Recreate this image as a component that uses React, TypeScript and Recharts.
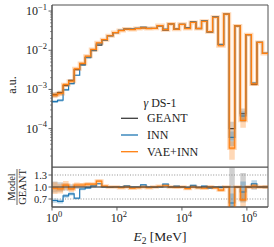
import React from "react";
import {
  ComposedChart,
  Line,
  Area,
  XAxis,
  YAxis,
  ReferenceLine,
  ReferenceArea,
} from "recharts";

// binning: 39 log-spaced bins in E_2 [MeV]
const LOG_E_MIN = 0;
const LOG_E_MAX = 6.65;
const N_BINS = 39;

// normalised histograms (a.u.), one value per bin
const geant = [
  7.4e-4, 8.3e-4, 1.26e-3, 1.7e-3, 3.2e-3, 4.4e-3, 6.6e-3, 9.8e-3, 1.35e-2, 1.82e-2,
  2.34e-2, 2.82e-2, 3.24e-2, 3.47e-2, 3.47e-2, 3.63e-2, 3.72e-2, 3.63e-2, 3.63e-2, 4.17e-2,
  3.24e-2, 4.68e-2, 3.47e-2, 4.57e-2, 3.72e-2, 5.13e-2, 3.63e-2, 5.62e-2, 2.95e-2, 7.08e-2,
  1.41e-2, 8.3e-2, 1.0e-4, 4.17e-2, 2.4e-4, 2.5e-2, 1.35e-3, 1.58e-2, 8.3e-3,
];
const inn = [
  4.9e-4, 5.3e-4, 9.8e-4, 1.41e-3, 2.3e-3, 4.18e-3, 6.47e-3, 1.01e-2, 1.46e-2, 1.82e-2,
  2.32e-2, 2.82e-2, 3.24e-2, 3.57e-2, 3.47e-2, 3.63e-2, 3.91e-2, 3.63e-2, 3.59e-2, 4.17e-2,
  3.47e-2, 4.68e-2, 3.54e-2, 4.57e-2, 3.65e-2, 5.34e-2, 3.56e-2, 5.73e-2, 2.86e-2, 7.08e-2,
  1.4e-2, 8.3e-2, 6.0e-5, 4.17e-2, 2.1e-4, 2.5e-2, 1.46e-3, 1.58e-2, 8.3e-3,
];
const vaeInn = [
  7.2e-4, 7.9e-4, 1.32e-3, 1.62e-3, 3.36e-3, 4.62e-3, 7.06e-3, 1.05e-2, 1.55e-2, 1.86e-2,
  2.34e-2, 2.82e-2, 3.18e-2, 3.47e-2, 3.37e-2, 3.56e-2, 3.72e-2, 3.56e-2, 3.63e-2, 4.25e-2,
  3.34e-2, 4.68e-2, 3.44e-2, 4.57e-2, 3.57e-2, 5.13e-2, 3.56e-2, 5.45e-2, 2.95e-2, 6.94e-2,
  1.3e-2, 8.3e-2, 3.2e-5, 4.17e-2, 1.63e-4, 2.5e-2, 1.38e-3, 1.58e-2, 8.3e-3,
];

// relative uncertainties per bin (shaded bands)
const geantErr = [
  0.14, 0.12, 0.09, 0.07, 0.05, 0.04, 0.03, 0.025, 0.02, 0.02,
  0.015, 0.015, 0.015, 0.015, 0.015, 0.015, 0.015, 0.015, 0.015, 0.015,
  0.015, 0.015, 0.015, 0.015, 0.015, 0.015, 0.015, 0.015, 0.02, 0.015,
  0.03, 0.015, 0.5, 0.015, 0.35, 0.02, 0.07, 0.02, 0.03,
];
const innErr = [
  0.08, 0.08, 0.06, 0.05, 0.04, 0.03, 0.03, 0.02, 0.02, 0.02,
  0.015, 0.015, 0.015, 0.015, 0.015, 0.015, 0.02, 0.015, 0.015, 0.015,
  0.015, 0.015, 0.015, 0.015, 0.015, 0.015, 0.015, 0.015, 0.02, 0.015,
  0.03, 0.015, 0.4, 0.015, 0.3, 0.02, 0.08, 0.02, 0.03,
];
const vaeErr = [
  0.15, 0.12, 0.1, 0.08, 0.06, 0.05, 0.04, 0.03, 0.03, 0.02,
  0.02, 0.02, 0.02, 0.02, 0.02, 0.02, 0.02, 0.02, 0.02, 0.02,
  0.02, 0.02, 0.02, 0.02, 0.02, 0.02, 0.02, 0.02, 0.03, 0.02,
  0.04, 0.02, 0.5, 0.02, 0.35, 0.03, 0.07, 0.03, 0.04,
];

const seriesNames = ["GEANT", "INN", "VAE+INN"];
const legendTitle = "DS-1";
const xMajorTicks = [1, 1e2, 1e4, 1e6];
const yMajorTicks = [1e-4, 1e-3, 1e-2, 1e-1];
const ratioTicks = [0.7, 1.0, 1.3];

const FONT = "Liberation Serif, DejaVu Serif, serif";
const C_GEANT = "#3c3c3c";
const C_INN = "#1f77b4";
const C_VAE = "#ff7f0e";
const FRAME = "#505050";

const E_MIN = Math.pow(10, LOG_E_MIN);
const E_MAX = Math.pow(10, LOG_E_MAX);
const Y_MIN = 1.05e-5;
const Y_MAX = 0.1426;

const yMinorTicks: number[] = [];
for (let d = -5; d <= -1; d++) {
  for (let m = 1; m <= 9; m++) {
    const v = m * Math.pow(10, d);
    if (v >= Y_MIN && v <= Y_MAX) yMinorTicks.push(v);
  }
}
const yTicks = Array.from(new Set([...yMinorTicks, ...yMajorTicks])).sort((a, b) => a - b);

const rows = Array.from({ length: N_BINS + 1 }, (_, k) => {
  const i = Math.min(k, N_BINS - 1);
  const e = Math.pow(10, LOG_E_MIN + (k * (LOG_E_MAX - LOG_E_MIN)) / N_BINS);
  const g = geant[i];
  const n = inn[i];
  const v = vaeInn[i];
  return {
    e,
    geant: g,
    inn: n,
    vae: v,
    geantBand: [g * (1 - geantErr[i]), g * (1 + geantErr[i])],
    innBand: [n * (1 - innErr[i]), n * (1 + innErr[i])],
    vaeBand: [v * (1 - vaeErr[i]), v * (1 + vaeErr[i])],
    rGeant: 1,
    rInn: n / g,
    rVae: v / g,
    rGeantBand: [1 - geantErr[i], 1 + geantErr[i]],
    rInnBand: [(n * (1 - innErr[i])) / g, (n * (1 + innErr[i])) / g],
    rVaeBand: [(v * (1 - vaeErr[i])) / g, (v * (1 + vaeErr[i])) / g],
  };
});

const txt = { fontFamily: FONT };

function LogYTick(props: any) {
  const { x, y, payload } = props;
  const lg = Math.log10(payload.value);
  const p = Math.round(lg);
  const major = Math.abs(lg - p) < 1e-6;
  return (
    <g>
      <line x1={x - (major ? 3.5 : 2)} x2={x} y1={y} y2={y} stroke={FRAME} strokeWidth={major ? 0.9 : 0.6} />
      {major && (
        <text x={x - 5} y={y + 4} textAnchor="end" style={txt} fontSize={12} fill="#222">
          10
          <tspan dy={-5.5} fontSize={8.5}>{`\u2212${-p}`}</tspan>
        </text>
      )}
    </g>
  );
}

function RatioYTick(props: any) {
  const { x, y, payload } = props;
  return (
    <g>
      <line x1={x - 3.5} x2={x} y1={y} y2={y} stroke={FRAME} strokeWidth={0.9} />
      <text x={x - 5} y={y + 3.5} textAnchor="end" style={txt} fontSize={10.5} fill="#222">
        {Number(payload.value).toFixed(1)}
      </text>
    </g>
  );
}

function LogXTick(props: any) {
  const { x, y, payload } = props;
  const p = Math.round(Math.log10(payload.value));
  return (
    <g>
      <line x1={x} x2={x} y1={y} y2={y + 3.5} stroke={FRAME} strokeWidth={0.9} />
      <text x={x + 2} y={y + 15} textAnchor="middle" style={txt} fontSize={12} fill="#222">
        10
        <tspan dy={-5.5} fontSize={8.5}>{p}</tspan>
      </text>
    </g>
  );
}

function Labels() {
  const legendRows = [
    { name: seriesNames[0], color: C_GEANT, y: 118.3 },
    { name: seriesNames[1], color: C_INN, y: 135 },
    { name: seriesNames[2], color: C_VAE, y: 151.7 },
  ];
  return (
    <svg
      width={274}
      height={247}
      style={{ position: "absolute", left: 0, top: 0, pointerEvents: "none", fontFamily: FONT }}
      fill="#222"
    >
      <text transform="translate(16,85) rotate(-90)" textAnchor="middle" fontSize={12}>
        a.u.
      </text>
      <g transform="translate(17,187) rotate(-90)">
        <text x={0} y={-2} textAnchor="middle" fontSize={10.5}>
          Model
        </text>
        <line x1={-18} x2={18} y1={0} y2={0} stroke="#222" strokeWidth={0.7} />
        <text x={0} y={8.5} textAnchor="middle" fontSize={10.5}>
          GEANT
        </text>
      </g>
      <text x={160} y={241} textAnchor="middle" fontSize={13.5}>
        <tspan fontStyle="italic">E</tspan>
        <tspan dy={3} fontSize={9.5}>2</tspan>
        <tspan dy={-3}> [MeV]</tspan>
      </text>
      <text x={160} y={107} textAnchor="middle" fontSize={12}>
        <tspan fontStyle="italic">γ</tspan> {legendTitle}
      </text>
      {legendRows.map((r) => (
        <g key={r.name}>
          <line x1={121} x2={138} y1={r.y} y2={r.y} stroke={r.color} strokeWidth={1.3} />
          <text x={147} y={r.y + 4} fontSize={12}>
            {r.name}
          </text>
        </g>
      ))}
    </svg>
  );
}

export default function App() {
  return (
    <div style={{ position: "absolute", left: 0, top: 0, width: 274, height: 247, background: "#fff" }}>
      <div style={{ position: "absolute", left: 0, top: 0 }}>
        <ComposedChart width={274} height={168} data={rows} margin={{ top: 5, right: 6, bottom: 1, left: 0 }}>
          <XAxis dataKey="e" type="number" scale="log" domain={[E_MIN, E_MAX]} allowDataOverflow hide />
          <YAxis
            type="number"
            scale="log"
            domain={[Y_MIN, Y_MAX]}
            allowDataOverflow
            ticks={yTicks}
            interval={0}
            width={52}
            tickSize={0}
            tickMargin={0}
            tickLine={false}
            axisLine={{ stroke: FRAME }}
            tick={LogYTick}
          />
          <Area dataKey="geantBand" type="stepAfter" stroke="none" fill="#9a9a9a" fillOpacity={0.45} isAnimationActive={false} />
          <Area dataKey="innBand" type="stepAfter" stroke="none" fill={C_INN} fillOpacity={0.3} isAnimationActive={false} />
          <Area dataKey="vaeBand" type="stepAfter" stroke="none" fill={C_VAE} fillOpacity={0.3} isAnimationActive={false} />
          <Line dataKey="geant" type="stepAfter" stroke={C_GEANT} strokeWidth={1.2} dot={false} activeDot={false} isAnimationActive={false} />
          <Line dataKey="inn" type="stepAfter" stroke={C_INN} strokeWidth={1.2} dot={false} activeDot={false} isAnimationActive={false} />
          <Line dataKey="vae" type="stepAfter" stroke={C_VAE} strokeWidth={4} strokeOpacity={0.3} dot={false} activeDot={false} isAnimationActive={false} />
          <Line dataKey="vae" type="stepAfter" stroke={C_VAE} strokeWidth={1.2} dot={false} activeDot={false} isAnimationActive={false} />
          <ReferenceArea x1={E_MIN} x2={E_MAX} y1={Y_MIN} y2={Y_MAX} fill="none" stroke={FRAME} strokeWidth={1} ifOverflow="visible" />
        </ComposedChart>
      </div>
      <div style={{ position: "absolute", left: 0, top: 167 }}>
        <ComposedChart width={274} height={80} data={rows} margin={{ top: 0, right: 6, bottom: 0, left: 0 }}>
          <XAxis
            dataKey="e"
            type="number"
            scale="log"
            domain={[E_MIN, E_MAX]}
            allowDataOverflow
            ticks={xMajorTicks}
            interval={0}
            height={40}
            tickSize={0}
            tickMargin={0}
            tickLine={false}
            axisLine={{ stroke: FRAME }}
            tick={LogXTick}
          />
          <YAxis
            type="number"
            domain={[0.5, 1.5]}
            allowDataOverflow
            ticks={ratioTicks}
            interval={0}
            width={52}
            tickSize={0}
            tickMargin={0}
            tickLine={false}
            axisLine={{ stroke: FRAME }}
            tick={RatioYTick}
          />
          <ReferenceLine y={1.3} stroke="#777" strokeWidth={0.8} strokeDasharray="1 1.6" />
          <ReferenceLine y={0.7} stroke="#777" strokeWidth={0.8} strokeDasharray="1 1.6" />
          <Area dataKey="rGeantBand" type="stepAfter" stroke="none" fill="#9a9a9a" fillOpacity={0.45} isAnimationActive={false} />
          <Area dataKey="rInnBand" type="stepAfter" stroke="none" fill={C_INN} fillOpacity={0.3} isAnimationActive={false} />
          <Area dataKey="rVaeBand" type="stepAfter" stroke="none" fill={C_VAE} fillOpacity={0.3} isAnimationActive={false} />
          <Line dataKey="rInn" type="stepAfter" stroke={C_INN} strokeWidth={1.2} dot={false} activeDot={false} isAnimationActive={false} />
          <Line dataKey="rVae" type="stepAfter" stroke={C_VAE} strokeWidth={3.5} strokeOpacity={0.3} dot={false} activeDot={false} isAnimationActive={false} />
          <Line dataKey="rVae" type="stepAfter" stroke={C_VAE} strokeWidth={1.2} dot={false} activeDot={false} isAnimationActive={false} />
          <Line dataKey="rGeant" type="stepAfter" stroke={C_GEANT} strokeWidth={1.2} dot={false} activeDot={false} isAnimationActive={false} />
          <ReferenceArea x1={E_MIN} x2={E_MAX} y1={0.5} y2={1.5} fill="none" stroke={FRAME} strokeWidth={1} ifOverflow="visible" />
        </ComposedChart>
      </div>
      <Labels />
    </div>
  );
}
